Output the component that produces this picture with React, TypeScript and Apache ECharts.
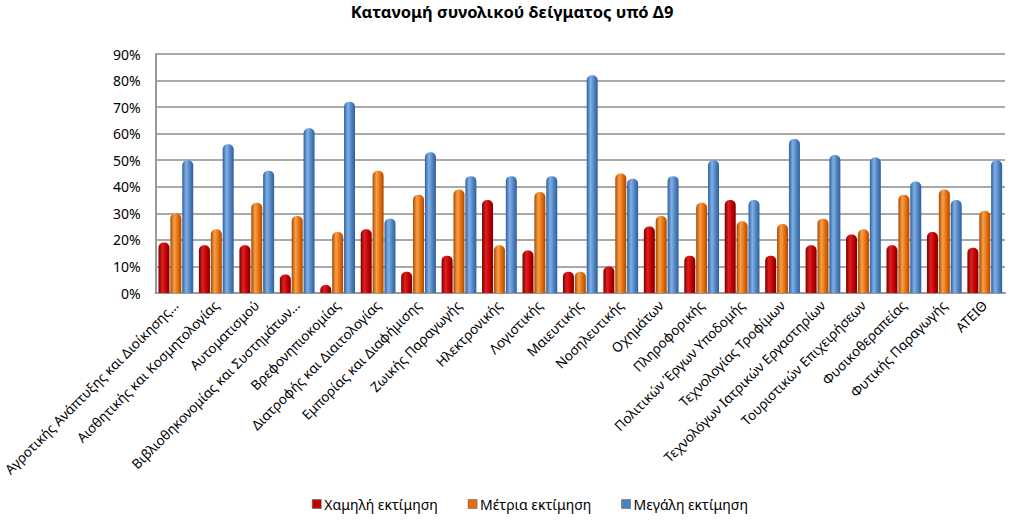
import React, { useEffect, useRef } from "react";
import * as echarts from "echarts";

const title = "Κατανομή συνολικού δείγματος υπό Δ9";
const categories = [
  "Αγροτικής Ανάπτυξης και Διοίκησης...",
  "Αισθητικής και Κοσμητολογίας",
  "Αυτοματισμού",
  "Βιβλιοθηκονομίας και Συστημάτων...",
  "Βρεφονηπιοκομίας",
  "Διατροφής και Διαιτολογίας",
  "Εμπορίας και Διαφήμισης",
  "Ζωικής Παραγωγής",
  "Ηλεκτρονικής",
  "Λογιστικής",
  "Μαιευτικής",
  "Νοσηλευτικής",
  "Οχημάτων",
  "Πληροφορικής",
  "Πολιτικών Έργων Υποδομής",
  "Τεχνολογίας Τροφίμων",
  "Τεχνολόγων Ιατρικών Εργαστηρίων",
  "Τουριστικών Επιχειρήσεων",
  "Φυσικοθεραπείας",
  "Φυτικής Παραγωγής",
  "ΑΤΕΙΘ",
];
const seriesNames = ["Χαμηλή εκτίμηση", "Μέτρια εκτίμηση", "Μεγάλη εκτίμηση"];
const low = [19, 18, 18, 7, 3, 24, 8, 14, 35, 16, 8, 10, 25, 14, 35, 14, 18, 22, 18, 23, 17];
const mid = [30, 24, 34, 29, 23, 46, 37, 39, 18, 38, 8, 45, 29, 34, 27, 26, 28, 24, 37, 39, 31];
const high = [50, 56, 46, 62, 72, 28, 53, 44, 44, 44, 82, 43, 44, 50, 35, 58, 52, 51, 42, 35, 50];

const FONT = "'Noto Sans', 'DejaVu Sans', sans-serif";

function cyl(dark: string, mid: string, light: string) {
  return new echarts.graphic.LinearGradient(0, 0, 1, 0, [
    { offset: 0, color: dark },
    { offset: 0.35, color: light },
    { offset: 0.7, color: mid },
    { offset: 1, color: dark },
  ]);
}

export default function App() {
  const ref = useRef<HTMLDivElement>(null);
  useEffect(() => {
    if (!ref.current) return;
    const chart = echarts.init(ref.current, undefined, { renderer: "svg" });
    const colors = [
      cyl("#7a0000", "#c00000", "#e02020"),
      cyl("#a94a00", "#e46c0a", "#f7a04a"),
      cyl("#2f5f9e", "#4f81bd", "#7fb0e8"),
    ];
    const legendColors = ["#c00000", "#e46c0a", "#4f81bd"];
    const data = [low, mid, high];
    chart.setOption({
      animation: false,
      backgroundColor: "#ffffff",
      title: {
        text: title,
        left: "center",
        top: 3,
        padding: 0,
        textStyle: { fontFamily: FONT, fontSize: 16.5, fontWeight: "bold", color: "#000" },
      },
      legend: {
        bottom: 6,
        left: 307,
        itemWidth: 9,
        itemHeight: 9,
        itemGap: 30,
        icon: "rect",
        textStyle: { fontFamily: FONT, fontSize: 14, color: "#000", padding: [0, 0, 0, -2] },
        data: seriesNames.map((n, i) => ({ name: n, itemStyle: { color: legendColors[i], borderColor: "#555", borderWidth: 0.5 } })),
      },
      grid: { left: 150, right: 19, top: 54, bottom: 229, containLabel: false },
      xAxis: {
        type: "category",
        data: categories,
        axisLine: { lineStyle: { color: "#999", width: 2 } },
        axisTick: { show: false },
        axisLabel: {
          interval: 0,
          rotate: 45,
          fontFamily: FONT,
          fontSize: 13.5,
          color: "#000",
          margin: 10,
        },
      },
      yAxis: {
        type: "value",
        min: 0,
        max: 90,
        interval: 10,
        axisLine: { show: true, lineStyle: { color: "#999", width: 2 } },
        axisTick: { show: false },
        axisLabel: {
          formatter: "{value}%",
          fontFamily: FONT,
          fontSize: 14,
          color: "#000",
          margin: 15,
        },
        splitLine: { lineStyle: { color: "#8c8c8c", width: 1.5 } },
      },
      series: data.map((d, i) => ({
        name: seriesNames[i],
        type: "bar",
        data: d,
        barWidth: 11,
        barGap: "8%",
        itemStyle: { color: colors[i], borderRadius: [5, 5, 1, 1] },
      })),
    });
    return () => chart.dispose();
  }, []);
  return (
    <div
      ref={ref}
      style={{ position: "fixed", left: 0, top: 0, width: 1024, height: 522 }}
    />
  );
}
